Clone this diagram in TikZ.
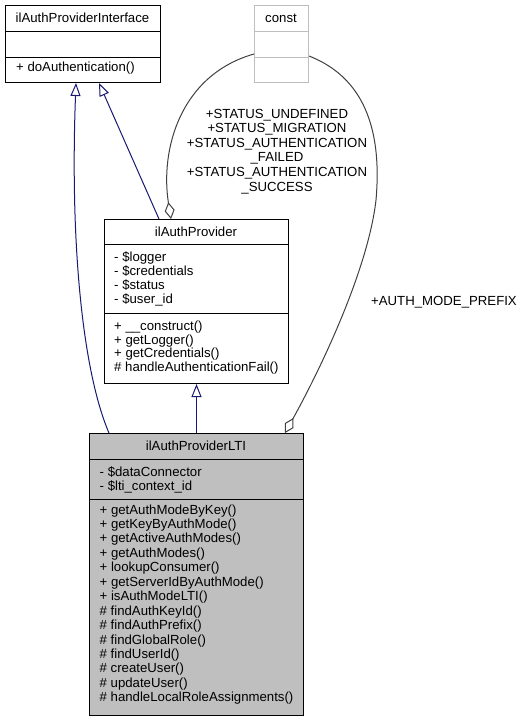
\documentclass[tikz,border=0pt]{standalone}
\usepackage{fontspec}
\setmainfont{Liberation Sans}
\usetikzlibrary{arrows.meta,calc}
\definecolor{edgeblue}{HTML}{191970}
\definecolor{aggr}{HTML}{404040}
\definecolor{ltigray}{HTML}{BFBFBF}
\definecolor{constgray}{HTML}{BFBFBF}
\begin{document}
\begin{tikzpicture}[x=1pt,y=-1pt,
  classbox/.style={draw=black,line width=1pt,rectangle,inner sep=0pt,anchor=north west},
  sepline/.style={draw=black,line width=1pt},
  txt/.style={inner sep=0pt,anchor=base west,font=\fontsize{13.2}{14}\selectfont},
  ctxt/.style={inner sep=0pt,anchor=base,font=\fontsize{13.2}{14}\selectfont},
  inh/.style={draw=edgeblue,line width=1pt,-{Triangle[open,length=13pt,width=10pt]}},
  agg/.style={draw=aggr,line width=1pt,-{Diamond[open,length=17pt,width=10pt]}},
]
\useasboundingbox (0,0) rectangle (525,721);

% ilAuthProviderInterface
\node[classbox,minimum width=155pt,minimum height=77pt] (iface) at (5,5) {};
\draw[sepline] (5,31.5) -- (160,31.5);
\draw[sepline] (5,57) -- (160,57);
\node[ctxt] (ifacet) at (82.5,22) {ilAuthProviderInterface};
\node[txt] (ifacem) at (16,71) {+ doAuthentication()};

% const
\node[classbox,draw=constgray,minimum width=54pt,minimum height=77pt] (const) at (254,5) {};
\draw[sepline,draw=constgray] (254,31.5) -- (308,31.5);
\draw[sepline,draw=constgray] (254,57) -- (308,57);
\node[ctxt] (constt) at (281,22) {const};

% ilAuthProvider
\node[classbox,minimum width=184pt,minimum height=164pt] (prov) at (104,219) {};
\draw[sepline] (104,244) -- (288,244);
\draw[sepline] (104,313) -- (288,313);
\node[ctxt] (provt) at (196,236) {ilAuthProvider};
\node[txt] (pa1) at (114,261) {- \$logger};
\node[txt] (pa2) at (114,275.2) {- \$credentials};
\node[txt] (pa3) at (114,289.4) {- \$status};
\node[txt] (pa4) at (114,303.6) {- \$user\_id};
\node[txt] (pm1) at (114,330.5) {+ \_\_construct()};
\node[txt] (pm2) at (114,344.2) {+ getLogger()};
\node[txt] (pm3) at (114,357.9) {+ getCredentials()};
\node[txt] (pm4) at (114,371.6) {\# handleAuthenticationFail()};

% ilAuthProviderLTI
\node[classbox,fill=ltigray,minimum width=214pt,minimum height=282pt] (lti) at (89,433) {};
\draw[sepline] (89,459) -- (303,459);
\draw[sepline] (89,499) -- (303,499);
\node[ctxt] (ltit) at (196,450) {ilAuthProviderLTI};
\node[txt] (la1) at (99.5,476) {- \$dataConnector};
\node[txt] (la2) at (99.5,490.3) {- \$lti\_context\_id};
\foreach \t [count=\i from 0] in {+ getAuthModeByKey(), + getKeyByAuthMode(), + getActiveAuthModes(), + getAuthModes(), + lookupConsumer(), + getServerIdByAuthMode(), + isAuthModeLTI(), \# findAuthKeyId(), \# findAuthPrefix(), \# findGlobalRole(), \# findUserId(), \# createUser(), \# updateUser(), \# handleLocalRoleAssignments()}
  \node[txt] (lm\i) at (99.5,{514+14.45*\i}) {\t};

% edge labels
\node[ctxt] (el1) at (277,118) {+STATUS\_UNDEFINED};
\node[ctxt] (el2) at (277,132.6) {+STATUS\_MIGRATION};
\node[ctxt] (el3) at (277,147.2) {+STATUS\_AUTHENTICATION};
\node[ctxt] (el4) at (277,161.8) {\_FAILED};
\node[ctxt] (el5) at (277,176.4) {+STATUS\_AUTHENTICATION};
\node[ctxt] (el6) at (277,191) {\_SUCCESS};
\node[txt] (el7) at (371,305) {+AUTH\_MODE\_PREFIX};

% edges
\coordinate (bend) at (376,200);
\draw[inh] ($(lti.north west)+(20,0)$) .. controls (82,370) and (70,240) .. ($(iface.south west)+(71,0)$);
\draw[inh] ($(prov.north west)+(55,0)$) -- ($(iface.south west)+(94,0)$);
\draw[inh] (lti.north) -- (prov.south);
\draw[agg] ($(const.south west)+(0,-29)$) .. controls (180,75) and (160,150) .. ($(prov.north west)+(67,0)$);
\draw[agg] ($(const.south east)+(0,-27)$) .. controls (350,72) and (384,110) .. (bend) .. controls (368,270) and (320,370) .. ($(lti.north east)+(-19,0)$);
\end{tikzpicture}
\end{document}
